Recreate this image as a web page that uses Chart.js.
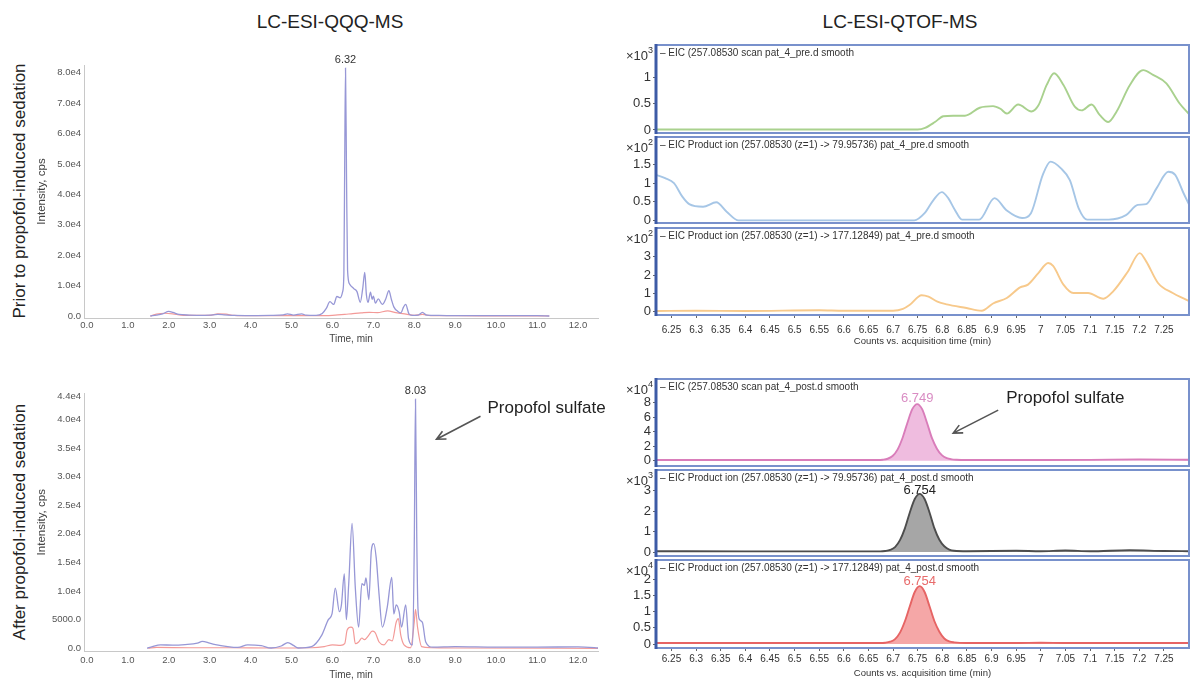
<!DOCTYPE html>
<html>
<head>
<meta charset="utf-8">
<title>Propofol sulfate chromatograms</title>
<script src="https://cdn.jsdelivr.net/npm/chart.js@4.4.1/dist/chart.umd.min.js"></script>
<style>
  body { margin: 0; background: #fff; font-family: "Liberation Sans", Arial, sans-serif; color: #222; }
  #page { position: relative; width: 1190px; height: 681px; overflow: hidden; }
  canvas { position: absolute; }
  .head { position: absolute; top: 10px; width: 300px; text-align: center; font-size: 19px; line-height: 24px; }
  .row { position: absolute; font-size: 17px; line-height: 20px; white-space: nowrap;
         transform: translate(-50%, -50%) rotate(-90deg); }
</style>
</head>
<body>
<div id="page">
  <div class="head" style="left:180px">LC-ESI-QQQ-MS</div>
  <div class="head" style="left:750px">LC-ESI-QTOF-MS</div>
  <div class="row" style="left:20px;top:191px">Prior to propofol-induced sedation</div>
  <div class="row" style="left:20px;top:522px">After propofol-induced sedation</div>

  <canvas id="qqqPre" width="620" height="305" style="left:0;top:40px"></canvas>
  <canvas id="qqqPost" width="620" height="313" style="left:0;top:368px"></canvas>

  <canvas id="tofPre1" width="590" height="94" style="left:600px;top:42px"></canvas>
  <canvas id="tofPre2" width="590" height="92" style="left:600px;top:134px"></canvas>
  <canvas id="tofPre3" width="590" height="123" style="left:600px;top:225px"></canvas>
  <canvas id="tofPost1" width="590" height="93" style="left:600px;top:376px"></canvas>
  <canvas id="tofPost2" width="590" height="92" style="left:600px;top:467px"></canvas>
  <canvas id="tofPost3" width="590" height="124" style="left:600px;top:557px"></canvas>
</div>

<script>
// ---------- LC-ESI-QQQ-MS (intensity in cps, time in min) ----------
const qqqTimeTicks = [0, 1, 2, 3, 4, 5, 6, 7, 8, 9, 10, 11, 12];
const qqqTimeMin = -0.071;
const qqqTimeMax = 12.49;

const qqqPreTicks = [0, 10000, 20000, 30000, 40000, 50000, 60000, 70000, 80000];
const qqqPreTickLabels = ['0.0', '1.0e4', '2.0e4', '3.0e4', '4.0e4', '5.0e4', '6.0e4', '7.0e4', '8.0e4'];
const qqqPostTicks = [0, 5000, 10000, 15000, 20000, 25000, 30000, 35000, 40000, 44000];
const qqqPostTickLabels = ['0.0', '5000.0', '1.0e4', '1.5e4', '2.0e4', '2.5e4', '3.0e4', '3.5e4', '4.0e4', '4.4e4'];

// before sedation
const qqqPreBlueTime = [1.55, 1.7, 1.85, 2.0, 2.1, 2.25, 2.5, 2.8, 3.0, 3.2, 3.35, 3.6, 4.0, 4.5, 4.8,
  4.9, 5.05, 5.25, 5.35, 5.6, 5.75, 5.85, 5.94, 6.03, 6.11, 6.19, 6.25, 6.28, 6.30, 6.32, 6.345, 6.37,
  6.42, 6.52, 6.6, 6.68, 6.74, 6.79, 6.83, 6.87, 6.93, 6.97, 7.0, 7.05, 7.12, 7.22, 7.3, 7.38, 7.44,
  7.5, 7.6, 7.67, 7.74, 7.79, 7.87, 7.95, 8.1, 8.2, 8.3, 8.6, 9.0, 10.0, 11.0, 11.3];
const qqqPreBlue = [0, 300, 700, 1500, 1200, 500, 300, 200, 300, 500, 400, 200, 150, 200, 400,
  700, 300, 700, 300, 200, 800, 2500, 4700, 3800, 6400, 6000, 8000, 14000, 50000, 81500, 45000, 15000,
  10500, 9000, 8000, 4500, 9000, 14300, 7000, 4500, 7800, 5500, 6500, 4200, 5600, 3800, 5500, 8300, 5500,
  3000, 1500, 1000, 3000, 3800, 700, 200, 300, 1200, 300, 200, 100, 150, 150, 0];
const qqqPreRedTime = [1.55, 1.7, 1.9, 2.1, 2.3, 2.6, 3.0, 3.2, 3.4, 3.6, 4.0, 5.0, 5.5, 6.0, 6.3,
  6.5, 6.7, 6.9, 7.1, 7.35, 7.55, 7.8, 8.0, 8.2, 8.4, 9.0, 10.0, 11.3];
const qqqPreRed = [0, 600, 900, 700, 300, 200, 200, 700, 600, 200, 100, 150, 100, 200, 500,
  800, 1000, 1200, 1100, 1700, 1100, 600, 200, 500, 150, 100, 50, 0];

// after sedation
const qqqPostBlueTime = [1.47, 1.6, 1.8, 2.1, 2.4, 2.7, 2.82, 3.0, 3.11, 3.44, 3.69, 3.93, 4.26, 4.5,
  4.75, 4.91, 5.05, 5.16, 5.49, 5.74, 5.9, 5.99, 6.07, 6.17, 6.22, 6.29, 6.34, 6.40, 6.48, 6.56, 6.64,
  6.72, 6.78, 6.82, 6.89, 6.95, 7.01, 7.07, 7.14, 7.22, 7.34, 7.45, 7.50, 7.56, 7.63, 7.69, 7.79, 7.86,
  7.96, 8.0, 8.03, 8.06, 8.09, 8.13, 8.2, 8.28, 8.45, 9.0, 10.0, 11.0, 12.0, 12.6];
const qqqPostBlue = [0, 300, 600, 550, 650, 900, 1200, 900, 700, 300, 150, 600, 450, 50,
  400, 1000, 500, 50, 300, 2300, 5000, 6000, 10500, 6400, 7600, 13000, 5000, 11500, 21800, 10500, 3700,
  11300, 11000, 12300, 8500, 17000, 18300, 15800, 9400, 3700, 7200, 12400, 6000, 7600, 6400, 3700, 7600, 1700,
  600, 18000, 43500, 20000, 7000, 5000, 4500, 1100, 200, 300, 200, 200, 250, 0];
const qqqPostRedTime = [1.5, 1.7, 2.5, 3.5, 4.5, 5.5, 5.8, 6.0, 6.2, 6.3, 6.36, 6.45, 6.5, 6.56, 6.64,
  6.72, 6.78, 6.89, 6.97, 7.04, 7.14, 7.26, 7.38, 7.46, 7.56, 7.61, 7.67, 7.75, 7.91, 8.0, 8.03, 8.08,
  8.18, 8.4, 9.0, 12.6];
const qqqPostRed = [0, 150, 100, 100, 50, 100, 300, 600, 500, 800, 3200, 3700, 3500, 800, 1100,
  1800, 1500, 2300, 3000, 2800, 1100, 600, 1500, 1300, 4600, 5200, 2300, 600, 100, 4600, 6800, 3700,
  300, 100, 50, 0];

// ---------- LC-ESI-QTOF-MS (counts, acquisition time in min) ----------
const qtofTimeTicks = [6.25, 6.3, 6.35, 6.4, 6.45, 6.5, 6.55, 6.6, 6.65, 6.7, 6.75, 6.8, 6.85, 6.9,
  6.95, 7, 7.05, 7.1, 7.15, 7.2, 7.25];
const qtofTimeMin = 6.2185;
const qtofTimeMax = 7.301;

// pre: EIC scan (x10^3)
const qtofPreScanTime = [6.2185, 6.5, 6.75, 6.765, 6.785, 6.802, 6.822, 6.846, 6.876, 6.903, 6.918, 6.931,
  6.954, 6.981, 6.995, 7.012, 7.027, 7.046, 7.069, 7.083, 7.103, 7.12, 7.137, 7.154, 7.181, 7.208, 7.228,
  7.255, 7.282, 7.303];
const qtofPreScan = [0.01, 0.01, 0.01, 0.04, 0.15, 0.26, 0.27, 0.27, 0.42, 0.45, 0.40, 0.31,
  0.48, 0.35, 0.46, 0.85, 1.07, 0.85, 0.44, 0.37, 0.48, 0.28, 0.15, 0.35, 0.85, 1.13, 1.04,
  0.88, 0.50, 0.28];
// pre: product ion 79.95736 (x10^2)
const qtofPre80Time = [6.2185, 6.237, 6.255, 6.272, 6.286, 6.314, 6.341, 6.362, 6.386, 6.5, 6.743, 6.764,
  6.782, 6.799, 6.812, 6.825, 6.84, 6.875, 6.906, 6.931, 6.962, 6.98, 7.004, 7.02, 7.041, 7.059, 7.077,
  7.094, 7.138, 7.173, 7.197, 7.214, 7.235, 7.259, 7.273, 7.29, 7.303];
const qtofPre80 = [1.22, 1.13, 1.0, 0.64, 0.44, 0.37, 0.49, 0.24, 0.01, 0.01, 0.01, 0.2,
  0.55, 0.76, 0.6, 0.3, 0.03, 0.03, 0.6, 0.27, 0.07, 0.2, 1.22, 1.57, 1.39, 1.08, 0.33,
  0.03, 0.03, 0.15, 0.42, 0.44, 0.86, 1.3, 1.22, 0.73, 0.38];
// pre: product ion 177.12849 (x10^2)
const qtofPre177Time = [6.2185, 6.3, 6.4, 6.55, 6.6, 6.7, 6.72, 6.734, 6.758, 6.772, 6.79, 6.809, 6.849,
  6.88, 6.903, 6.931, 6.958, 6.974, 6.995, 7.015, 7.025, 7.046, 7.066, 7.096, 7.127, 7.147, 7.177, 7.201,
  7.214, 7.238, 7.268, 7.295, 7.303];
const qtofPre177 = [0.04, 0.05, 0.04, 0.08, 0.05, 0.05, 0.15, 0.38, 0.9, 0.82, 0.55, 0.4, 0.2,
  0.05, 0.45, 0.75, 1.33, 1.48, 2.11, 2.66, 2.5, 1.48, 1.02, 1.02, 0.71, 1.11, 2.2, 3.2,
  2.75, 1.57, 1.02, 0.66, 0.55];

// post: EIC scan (x10^4)
const qtofPostScanTime = [6.2185, 6.4, 6.6, 6.669, 6.679, 6.689, 6.699, 6.709, 6.719, 6.729, 6.739, 6.749,
  6.759, 6.769, 6.779, 6.789, 6.799, 6.809, 6.819, 6.829, 6.85, 7.0, 7.1, 7.2, 7.303];
const qtofPostScan = [0.1, 0.1, 0.1, 0.1, 0.14, 0.27, 0.65, 1.53, 3.1, 5.2, 7.1, 7.8,
  7.1, 5.2, 3.1, 1.66, 0.76, 0.35, 0.19, 0.13, 0.1, 0.1, 0.12, 0.18, 0.12];
// post: both product ions share one time grid
const qtofPostIonTime = [6.2185, 6.4, 6.6, 6.674, 6.684, 6.694, 6.704, 6.714, 6.724, 6.734, 6.744, 6.754,
  6.764, 6.774, 6.784, 6.794, 6.804, 6.814, 6.824, 6.85, 6.95, 7.0, 7.05, 7.1, 7.18, 7.25, 7.303];
const qtofPost80 = [0.04, 0.03, 0.03, 0.03, 0.05, 0.1, 0.24, 0.58, 1.16, 1.94, 2.6, 2.85,
  2.6, 1.94, 1.16, 0.6, 0.28, 0.12, 0.06, 0.04, 0.06, 0.04, 0.07, 0.04, 0.09, 0.05, 0.04];   // x10^3
const qtofPost177 = [0.03, 0.03, 0.03, 0.03, 0.04, 0.07, 0.15, 0.35, 0.7, 1.16, 1.6, 1.78,
  1.6, 1.16, 0.7, 0.38, 0.17, 0.08, 0.05, 0.03, 0.03, 0.04, 0.03, 0.03, 0.03, 0.03, 0.03];  // x10^4

// ---------- drawing ----------
const FONT = '"Liberation Sans", Arial, sans-serif';
Chart.defaults.font.family = FONT;
Chart.defaults.color = '#333';

const xy = (ts, vs) => ts.map((t, i) => ({ x: t, y: vs[i] }));

function arrow(ctx, x0, y0, x1, y1) {
  const ang = Math.atan2(y1 - y0, x1 - x0), h = 10;
  ctx.beginPath();
  ctx.moveTo(x0, y0);
  ctx.lineTo(x1, y1);
  ctx.moveTo(x1 - h * Math.cos(ang - 0.45), y1 - h * Math.sin(ang - 0.45));
  ctx.lineTo(x1, y1);
  ctx.lineTo(x1 - h * Math.cos(ang + 0.45), y1 - h * Math.sin(ang + 0.45));
  ctx.stroke();
}

// frames, captions, axis titles and peak labels
const decor = {
  id: 'decor',
  afterDraw(chart, _args, o) {
    const { ctx, chartArea: a } = chart;
    ctx.save();
    if (o.frame) {
      ctx.strokeStyle = '#7891cc';
      ctx.lineWidth = 2;
      ctx.strokeRect(a.left, a.top, a.right - a.left, a.bottom - a.top);
      ctx.strokeStyle = '#3d5ba6';
      ctx.lineWidth = 3;
      ctx.beginPath();
      ctx.moveTo(a.left, a.top - 1);
      ctx.lineTo(a.left, a.bottom + 1);
      ctx.stroke();
    }
    if (o.caption) {
      ctx.font = '10px ' + FONT;
      ctx.fillStyle = '#333';
      ctx.textAlign = 'left';
      ctx.textBaseline = 'middle';
      ctx.fillText(o.caption, a.left + 4, a.top + 8);
    }
    if (o.power) {
      ctx.fillStyle = '#333';
      ctx.textBaseline = 'middle';
      ctx.font = '13px ' + FONT;
      ctx.textAlign = 'right';
      ctx.fillText('×10', a.left - 8, a.top + 11);
      ctx.font = '9px ' + FONT;
      ctx.textAlign = 'left';
      ctx.fillText(String(o.power), a.left - 8, a.top + 6);
    }
    if (o.yTitle) {
      ctx.font = '11.5px ' + FONT;
      ctx.fillStyle = '#444';
      ctx.textAlign = 'center';
      ctx.textBaseline = 'middle';
      ctx.translate(o.yTitleX, (a.top + a.bottom) / 2);
      ctx.rotate(-Math.PI / 2);
      ctx.fillText(o.yTitle, 0, 0);
      ctx.setTransform(1, 0, 0, 1, 0, 0);
    }
    if (o.xTitle) {
      ctx.font = '10px ' + FONT;
      ctx.fillStyle = '#444';
      ctx.textAlign = 'center';
      ctx.textBaseline = 'middle';
      ctx.fillText(o.xTitle, o.xTitleX, a.bottom + o.xTitleDy);
    }
    if (o.peak) {
      const pts = chart.data.datasets[0].data;
      let k = 0;
      pts.forEach((p, i) => { if (p.y > pts[k].y) k = i; });
      const el = chart.getDatasetMeta(0).data[k];
      ctx.font = o.peak.size + 'px ' + FONT;
      ctx.fillStyle = o.peak.color;
      ctx.textAlign = 'center';
      ctx.textBaseline = 'bottom';
      ctx.fillText(pts[k].x.toFixed(o.peak.digits), el.x, el.y - o.peak.gap);
      const n = o.peak.note;
      if (n) {
        ctx.font = '17px ' + FONT;
        ctx.fillStyle = '#222';
        ctx.textAlign = 'left';
        ctx.textBaseline = 'middle';
        ctx.fillText('Propofol sulfate', el.x + n.text[0], el.y + n.text[1]);
        ctx.strokeStyle = '#555';
        ctx.lineWidth = 1.6;
        arrow(ctx, el.x + n.tail[0], el.y + n.tail[1], el.x + n.head[0], el.y + n.head[1]);
      }
    }
    ctx.restore();
  }
};
Chart.register(decor);

function qqqChart(id, blue, red, ticks, labels, yMin, yMax, padTop, axisH, labelPad, titleDy, peak) {
  return new Chart(document.getElementById(id), {
    type: 'line',
    data: {
      datasets: [
        { data: blue, borderColor: '#9797d6', borderWidth: 1.3 },
        { data: red, borderColor: '#f39a98', borderWidth: 1.2 }
      ]
    },
    options: {
      responsive: false,
      animation: false,
      events: [],
      layout: { padding: { top: padTop, right: 22 } },
      elements: { point: { radius: 0 }, line: { cubicInterpolationMode: 'monotone' } },
      plugins: {
        legend: { display: false },
        tooltip: { enabled: false },
        decor: { yTitle: 'Intensity, cps', yTitleX: 42, xTitle: 'Time, min', xTitleX: 351, xTitleDy: titleDy, peak }
      },
      scales: {
        x: {
          type: 'linear', min: qqqTimeMin, max: qqqTimeMax,
          afterBuildTicks: s => { s.ticks = qqqTimeTicks.map(v => ({ value: v })); },
          afterFit: s => { s.height = axisH; },
          grid: { display: false, drawTicks: false },
          border: { color: '#c8c8c8' },
          ticks: { font: { size: 9.5 }, color: '#555', padding: labelPad, maxRotation: 0, autoSkip: false,
                   callback: v => v.toFixed(1) }
        },
        y: {
          min: yMin, max: yMax,
          afterBuildTicks: s => { s.ticks = ticks.map(v => ({ value: v })); },
          afterFit: s => { s.width = 84; s.paddingTop = 0; s.paddingBottom = 0; },
          grid: { display: false, drawTicks: false },
          border: { color: '#c8c8c8' },
          ticks: { font: { size: 9.5 }, color: '#555', padding: 3, callback: v => labels[ticks.indexOf(v)] }
        }
      }
    }
  });
}

function qtofChart(id, o) {
  const grid = { display: true, drawOnChartArea: false, drawTicks: true, tickLength: 3, color: '#666' };
  return new Chart(document.getElementById(id), {
    type: 'line',
    data: {
      datasets: [{
        data: o.data, borderColor: o.color, borderWidth: 1.9,
        fill: o.fill ? 'origin' : false, backgroundColor: o.fill || 'transparent'
      }]
    },
    options: {
      responsive: false,
      animation: false,
      events: [],
      layout: { padding: { top: 3, right: 1, bottom: o.xAxis ? 0 : 3 } },
      elements: { point: { radius: 0 }, line: { cubicInterpolationMode: 'monotone' } },
      plugins: {
        legend: { display: false },
        tooltip: { enabled: false },
        decor: { frame: true, caption: o.caption, power: o.power, peak: o.peak }
      },
      scales: {
        x: {
          type: 'linear', display: !!o.xAxis, min: qtofTimeMin, max: qtofTimeMax,
          afterBuildTicks: s => { s.ticks = qtofTimeTicks.map(v => ({ value: v })); },
          // only the lowest panel of each stack carries the time axis
          afterFit: s => { s.height = o.xAxis ? 33 : 0; s.paddingLeft = 0; s.paddingRight = 0; },
          grid, border: { display: false },
          ticks: { font: { size: 10 }, color: '#333', padding: o.xAxis ? o.xAxis.pad : 0,
                   maxRotation: 0, autoSkip: false, callback: v => String(+v.toFixed(2)) },
          title: { display: true, text: 'Counts vs. acquisition time (min)', font: { size: 9.5 }, color: '#333',
                   padding: { top: 0, bottom: o.xAxis ? o.xAxis.titlePad : 0 } }
        },
        y: {
          min: o.range[0], max: o.range[1],
          afterBuildTicks: s => { s.ticks = o.ticks.map(v => ({ value: v })); },
          afterFit: s => { s.width = 56; s.paddingTop = 0; s.paddingBottom = 0; },
          grid, border: { display: false },
          ticks: { font: { size: 13 }, color: '#333', padding: 2, callback: v => String(v) }
        }
      }
    }
  });
}

// QQQ panels
qqqChart('qqqPre', xy(qqqPreBlueTime, qqqPreBlue), xy(qqqPreRedTime, qqqPreRed),
  qqqPreTicks, qqqPreTickLabels, -660, 82500, 25, 27, 2, 21,
  { size: 11, color: '#333', digits: 2, gap: 3 });
qqqChart('qqqPost', xy(qqqPostBlueTime, qqqPostBlue), xy(qqqPostRedTime, qqqPostRed),
  qqqPostTicks, qqqPostTickLabels, -472, 44506, 25.5, 30, 4, 24,
  { size: 11, color: '#333', digits: 2, gap: 3,
    note: { text: [72, 9], tail: [65, 17], head: [21, 40] } });

// QTOF panels, before sedation
qtofChart('tofPre1', {
  data: xy(qtofPreScanTime, qtofPreScan), color: '#a9d18e', range: [-0.057, 1.604], ticks: [0, 0.5, 1],
  power: 3, caption: '– EIC (257.08530 scan pat_4_pre.d smooth'
});
qtofChart('tofPre2', {
  data: xy(qtofPre80Time, qtofPre80), color: '#a6c6e6', range: [-0.061, 2.226], ticks: [0, 0.5, 1, 1.5],
  power: 2, caption: '– EIC Product ion (257.08530 (z=1) -> 79.95736) pat_4_pre.d smooth'
});
qtofChart('tofPre3', {
  data: xy(qtofPre177Time, qtofPre177), color: '#f7c98b', range: [-0.18, 4.574], ticks: [0, 1, 2, 3],
  power: 2, caption: '– EIC Product ion (257.08530 (z=1) -> 177.12849) pat_4_pre.d smooth',
  xAxis: { pad: 6, titlePad: 1 }
});

// QTOF panels, after sedation
qtofChart('tofPost1', {
  data: xy(qtofPostScanTime, qtofPostScan), color: '#d97dba', fill: 'rgba(233,165,212,0.75)',
  range: [-0.73, 11.26], ticks: [0, 2, 4, 6, 8],
  power: 4, caption: '– EIC (257.08530 scan pat_4_post.d smooth',
  peak: { size: 13, color: '#d98cc3', digits: 3, gap: -1,
          note: { text: [89, -6], tail: [81, 6], head: [36, 29] } }
});
qtofChart('tofPost2', {
  data: xy(qtofPostIonTime, qtofPost80), color: '#4d4d4d', fill: 'rgba(150,150,150,0.85)',
  range: [-0.196, 4.02], ticks: [0, 1, 2, 3],
  power: 3, caption: '– EIC Product ion (257.08530 (z=1) -> 79.95736) pat_4_post.d smooth',
  peak: { size: 13, color: '#222', digits: 3, gap: -3 }
});
qtofChart('tofPost3', {
  data: xy(qtofPostIonTime, qtofPost177), color: '#e66464', fill: 'rgba(240,120,120,0.65)',
  range: [-0.123, 2.585], ticks: [0, 0.5, 1, 1.5, 2],
  power: 4, caption: '– EIC Product ion (257.08530 (z=1) -> 177.12849) pat_4_post.d smooth',
  peak: { size: 13, color: '#e86b6b', digits: 3, gap: -2 },
  xAxis: { pad: 2, titlePad: 2 }
});
</script>
</body>
</html>
